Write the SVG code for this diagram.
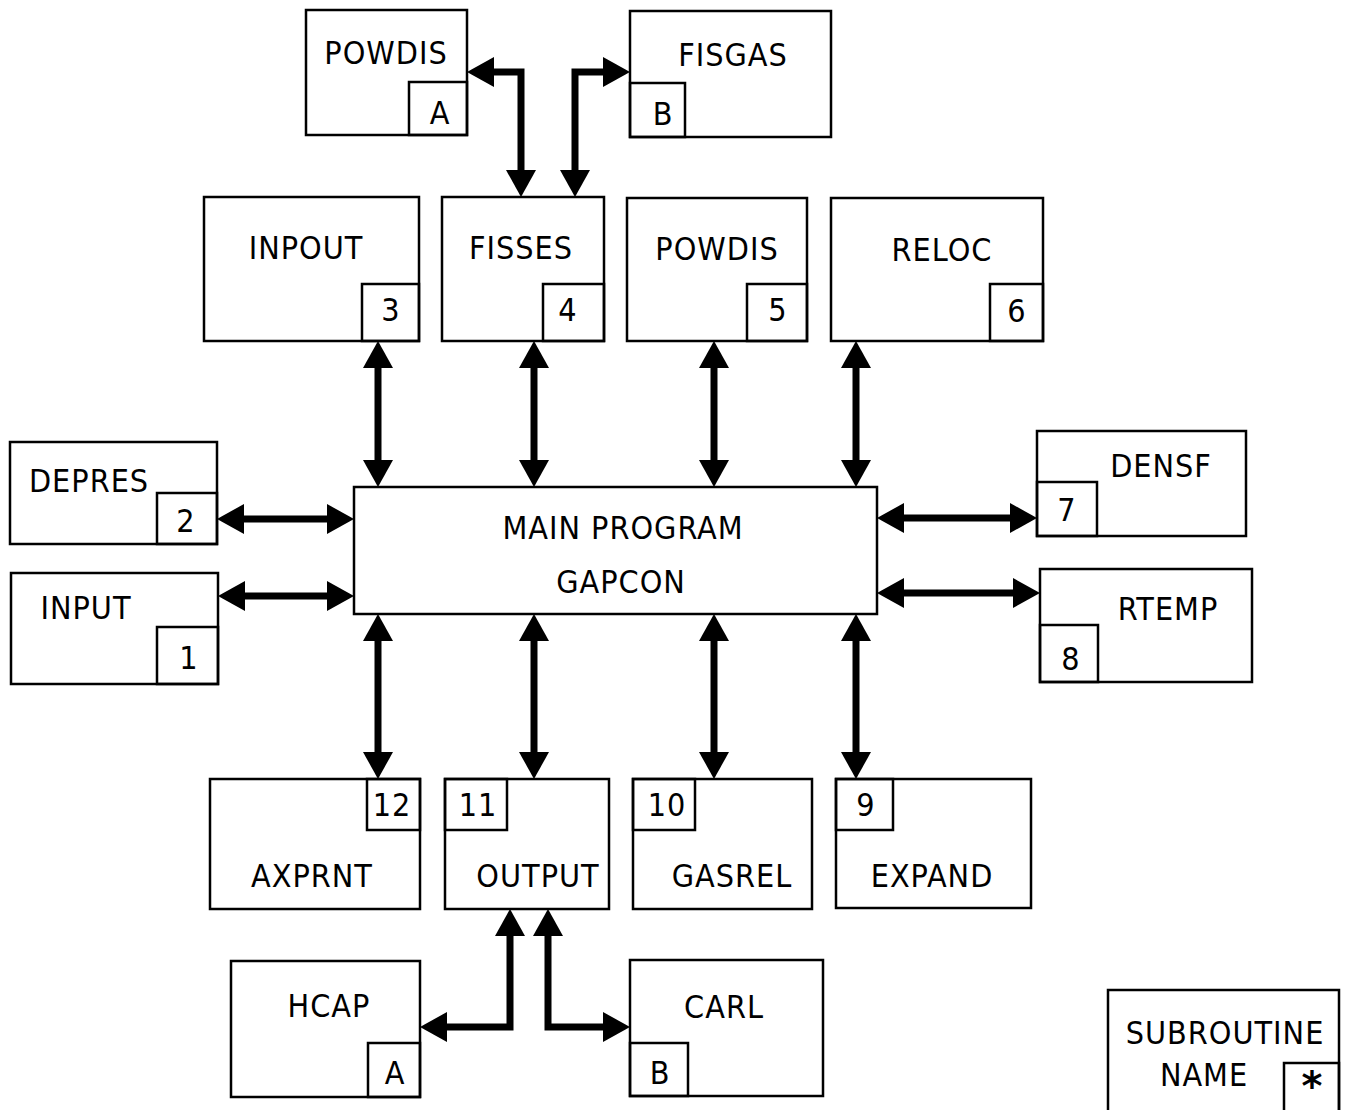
<svg xmlns="http://www.w3.org/2000/svg" width="1349" height="1110" viewBox="0 0 1349 1110">
<style>
.b{fill:none;stroke:#000;stroke-width:2.5}
.t{font-family:"DejaVu Sans Condensed","DejaVu Sans",sans-serif;font-size:32px;fill:#000;text-anchor:middle;letter-spacing:1px}
.a{fill:none;stroke:#000;stroke-width:7;stroke-linejoin:miter;marker-start:url(#h);marker-end:url(#h)}
</style>
<defs>
<marker id="h" markerUnits="userSpaceOnUse" viewBox="0 -15 27 30" markerWidth="27" markerHeight="30" refX="1" refY="0" orient="auto-start-reverse">
<path d="M0,-15 L27,0 L0,15 Z" fill="#000"/>
</marker>
</defs>
<rect width="1349" height="1110" fill="#fff"/>
<g id="powdisA"><rect class="b" x="306" y="10" width="161" height="125"/><rect class="b" x="409" y="82" width="58" height="53"/><text class="t" x="386" y="64">POWDIS</text><text class="t" x="440" y="124">A</text></g>
<g id="fisgas"><rect class="b" x="630" y="11" width="201" height="126"/><rect class="b" x="630" y="83" width="55" height="54"/><text class="t" x="733" y="66">FISGAS</text><text class="t" x="663" y="125">B</text></g>
<g id="inpout"><rect class="b" x="204" y="197" width="215" height="144"/><rect class="b" x="362" y="284" width="57" height="57"/><text class="t" x="306" y="259">INPOUT</text><text class="t" x="391" y="321">3</text></g>
<g id="fisses"><rect class="b" x="442" y="197" width="162" height="144"/><rect class="b" x="543" y="284" width="61" height="57"/><text class="t" x="521" y="259">FISSES</text><text class="t" x="568" y="321">4</text></g>
<g id="powdis5"><rect class="b" x="627" y="198" width="180" height="143"/><rect class="b" x="747" y="284" width="60" height="57"/><text class="t" x="717" y="260">POWDIS</text><text class="t" x="778" y="321">5</text></g>
<g id="reloc"><rect class="b" x="831" y="198" width="212" height="143"/><rect class="b" x="990" y="284" width="53" height="57"/><text class="t" x="942" y="261">RELOC</text><text class="t" x="1017" y="322">6</text></g>
<g id="depres"><rect class="b" x="10" y="442" width="207" height="102"/><rect class="b" x="157" y="493" width="60" height="51"/><text class="t" x="89" y="492">DEPRES</text><text class="t" x="186" y="532">2</text></g>
<g id="input"><rect class="b" x="11" y="573" width="207" height="111"/><rect class="b" x="157" y="627" width="61" height="57"/><text class="t" x="86" y="619">INPUT</text><text class="t" x="189" y="669">1</text></g>
<g id="main"><rect class="b" x="354" y="487" width="523" height="127"/><text class="t" x="623" y="539">MAIN PROGRAM</text><text class="t" x="621" y="593">GAPCON</text></g>
<g id="densf"><rect class="b" x="1037" y="431" width="209" height="105"/><rect class="b" x="1037" y="482" width="60" height="54"/><text class="t" x="1161" y="477">DENSF</text><text class="t" x="1067" y="521">7</text></g>
<g id="rtemp"><rect class="b" x="1040" y="569" width="212" height="113"/><rect class="b" x="1040" y="625" width="58" height="57"/><text class="t" x="1168" y="620">RTEMP</text><text class="t" x="1071" y="670">8</text></g>
<g id="axprnt"><rect class="b" x="210" y="779" width="210" height="130"/><rect class="b" x="367" y="779" width="53" height="51"/><text class="t" x="312" y="887">AXPRNT</text><text class="t" x="392" y="816">12</text></g>
<g id="output"><rect class="b" x="445" y="779" width="164" height="130"/><rect class="b" x="445" y="779" width="62" height="51"/><text class="t" x="538" y="887">OUTPUT</text><text class="t" x="478" y="816">11</text></g>
<g id="gasrel"><rect class="b" x="633" y="779" width="179" height="130"/><rect class="b" x="633" y="779" width="62" height="51"/><text class="t" x="732" y="887">GASREL</text><text class="t" x="667" y="816">10</text></g>
<g id="expand"><rect class="b" x="836" y="779" width="195" height="129"/><rect class="b" x="836" y="779" width="57" height="51"/><text class="t" x="932" y="887">EXPAND</text><text class="t" x="866" y="816">9</text></g>
<g id="hcap"><rect class="b" x="231" y="961" width="189" height="136"/><rect class="b" x="368" y="1043" width="52" height="54"/><text class="t" x="329" y="1017">HCAP</text><text class="t" x="395" y="1084">A</text></g>
<g id="carl"><rect class="b" x="630" y="960" width="193" height="136"/><rect class="b" x="630" y="1043" width="58" height="53"/><text class="t" x="724" y="1018">CARL</text><text class="t" x="660" y="1084">B</text></g>
<g id="legend"><rect class="b" x="1108" y="990" width="231" height="125"/><rect class="b" x="1284" y="1063" width="55" height="52"/><text class="t" x="1225" y="1044">SUBROUTINE</text><text class="t" x="1204" y="1086">NAME</text><text x="1312" y="1100" style="font-family:'DejaVu Sans',sans-serif;font-size:40px;font-weight:bold;text-anchor:middle">*</text></g>
<g id="connectors">
<path class="a" d="M493,72 L521,72 L521,171"/>
<path class="a" d="M575,171 L575,72 L604,72"/>
<path class="a" d="M378,367 L378,461"/>
<path class="a" d="M534,367 L534,461"/>
<path class="a" d="M714,367 L714,461"/>
<path class="a" d="M856,367 L856,461"/>
<path class="a" d="M378,640 L378,753"/>
<path class="a" d="M534,640 L534,753"/>
<path class="a" d="M714,640 L714,753"/>
<path class="a" d="M856,640 L856,753"/>
<path class="a" d="M243,519 L328,519"/>
<path class="a" d="M244,596 L328,596"/>
<path class="a" d="M903,518 L1011,518"/>
<path class="a" d="M903,593 L1014,593"/>
<path class="a" d="M510,935 L510,1027 L446,1027"/>
<path class="a" d="M548,935 L548,1027 L604,1027"/>
</g>
</svg>
